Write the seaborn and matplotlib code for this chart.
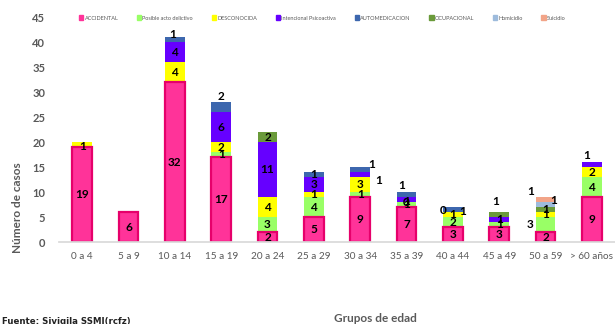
import matplotlib
matplotlib.use("Agg")
import matplotlib.pyplot as plt
import matplotlib.patches as mpatches
import seaborn as sns
import pandas as pd
import numpy as np

categories = ["0 a 4", "5 a 9", "10 a 14", "15 a 19", "20 a 24", "25 a 29",
              "30 a 34", "35 a 39", "40 a 44", "45 a 49", "50 a 59", "> 60 años"]
series_names = ["ACCIDENTAL", "Posible acto delictivo", "DESCONOCIDA",
                "Intencional Psicoactiva", "AUTOMEDICACION", "OCUPACIONAL",
                "Homicidio", "Suicidio"]
accidental   = [19, 6, 32, 17, 2, 5, 9, 7, 3, 3, 2, 9]
posible      = [0, 0, 0, 1, 3, 4, 1, 1, 2, 1, 3, 4]
desconocida  = [1, 0, 4, 2, 4, 1, 3, 0, 1, 0, 1, 2]
intencional  = [0, 0, 4, 6, 11, 3, 1, 1, 0, 1, 0, 1]
automedic    = [0, 0, 1, 2, 0, 1, 1, 1, 1, 0, 0, 0]
ocupacional  = [0, 0, 0, 0, 2, 0, 0, 0, 0, 1, 1, 0]
homicidio    = [0, 0, 0, 0, 0, 0, 0, 0, 0, 0, 1, 0]
suicidio     = [0, 0, 0, 0, 0, 0, 0, 0, 0, 0, 1, 0]

series = [accidental, posible, desconocida, intencional, automedic,
          ocupacional, homicidio, suicidio]
colors = ["#FF3399", "#99FF66", "#FFFF00", "#6600FF", "#3D67AE",
          "#6A9A3A", "#9DBBDC", "#F2A488"]

# which series get a data label in each group
shown = {
    0: [0, 2],
    1: [0],
    2: [0, 2, 3, 4],
    3: [0, 1, 2, 3, 4],
    4: [0, 1, 2, 3, 5],
    5: [0, 1, 2, 3, 4],
    6: [0, 1, 2, 3, 4],
    7: [0, 1, 2, 3, 4],
    8: [0, 1, 2, 3, 4],
    9: [0, 1, 3, 5],
    10: [0, 1, 2, 5, 6, 7],
    11: [0, 1, 2, 3],
}
# label offsets (dx in category units, dy in data units)
offsets = {
    (0, 2): (0.0, -0.4),
    (2, 4): (-0.05, 1.1),
    (3, 4): (0.0, 2.2),
    (6, 3): (0.4, -1.1),
    (6, 4): (0.25, 1.1),
    (7, 3): (0.0, -0.4),
    (7, 4): (-0.1, 1.9),
    (8, 3): (-0.22, 0.4),
    (8, 4): (0.22, -0.3),
    (9, 5): (-0.08, 2.7),
    (10, 1): (-0.33, 0.0),
    (10, 6): (0.18, 0.9),
    (10, 7): (-0.33, 1.7),
    (11, 3): (-0.12, 1.9),
}

sns.set_theme(style="white")
plt.rcParams["font.family"] = ["Lato", "DejaVu Sans"]
fig = plt.figure(figsize=(6.15, 3.24), dpi=100)
ax = fig.add_axes([0.096, 0.253, 0.904, 0.6945])

cum = np.cumsum(np.array(series), axis=0)
for k in range(len(series) - 1, -1, -1):
    df = pd.DataFrame({"grupo": categories, "valor": cum[k]})
    kw = dict(edgecolor="#E6006B", linewidth=1.6) if k == 0 else dict(linewidth=0)
    sns.barplot(data=df, x="grupo", y="valor", color=colors[k], saturation=1,
                width=0.43, ax=ax, order=categories, **kw)

for i in range(len(categories)):
    for k in shown[i]:
        v = series[k][i]
        base = cum[k][i] - v
        y = base + v / 2 if v > 0 else base
        dx, dy = offsets.get((i, k), (0, 0))
        ax.text(i + dx, y + dy, str(v), ha="center", va="center",
                fontsize=8.5, fontweight="bold", color="black")

ax.set_ylim(0, 45)
ax.set_xlim(-0.5, 11.5)
ax.set_yticks(range(0, 46, 5))
ax.set_xlabel("")
ax.set_ylabel("")
for s in ["top", "right", "left"]:
    ax.spines[s].set_visible(False)
ax.spines["bottom"].set_color("#D9D9D9")
ax.tick_params(axis="both", length=0)
ax.tick_params(axis="x", labelsize=7.2, labelcolor="#595959", pad=7)
ax.tick_params(axis="y", labelsize=8, labelcolor="#595959", pad=10)
for t in ax.get_yticklabels():
    t.set_fontweight("bold")

fig.text(18 / 615, 1 - 208 / 324, "Número de casos", rotation=90, ha="center",
         va="center", fontsize=8.5, fontweight="bold", color="#595959")
fig.text(375 / 615, 1 - 318 / 324, "Grupos de edad", ha="center", va="center",
         fontsize=8.5, fontweight="bold", color="#595959")
fig.text(2 / 615, 1 - 321 / 324, "Fuente: Sivigila SSMI(rcfz)", ha="left",
         va="center", fontsize=6.2, fontweight="bold", color="#222222",
         family=["Liberation Sans Narrow", "DejaVu Sans"])

handles = [mpatches.Patch(color=c, label=n) for c, n in zip(colors, series_names)]
leg = fig.legend(handles=handles, ncol=8, loc="center left",
                 bbox_to_anchor=(74 / 615, 1 - 18 / 324), frameon=False,
                 fontsize=4, handlelength=0.8, handleheight=0.8,
                 handletextpad=0.2, columnspacing=3.35, labelcolor="#595959")

fig.savefig("out.png", dpi=100)
